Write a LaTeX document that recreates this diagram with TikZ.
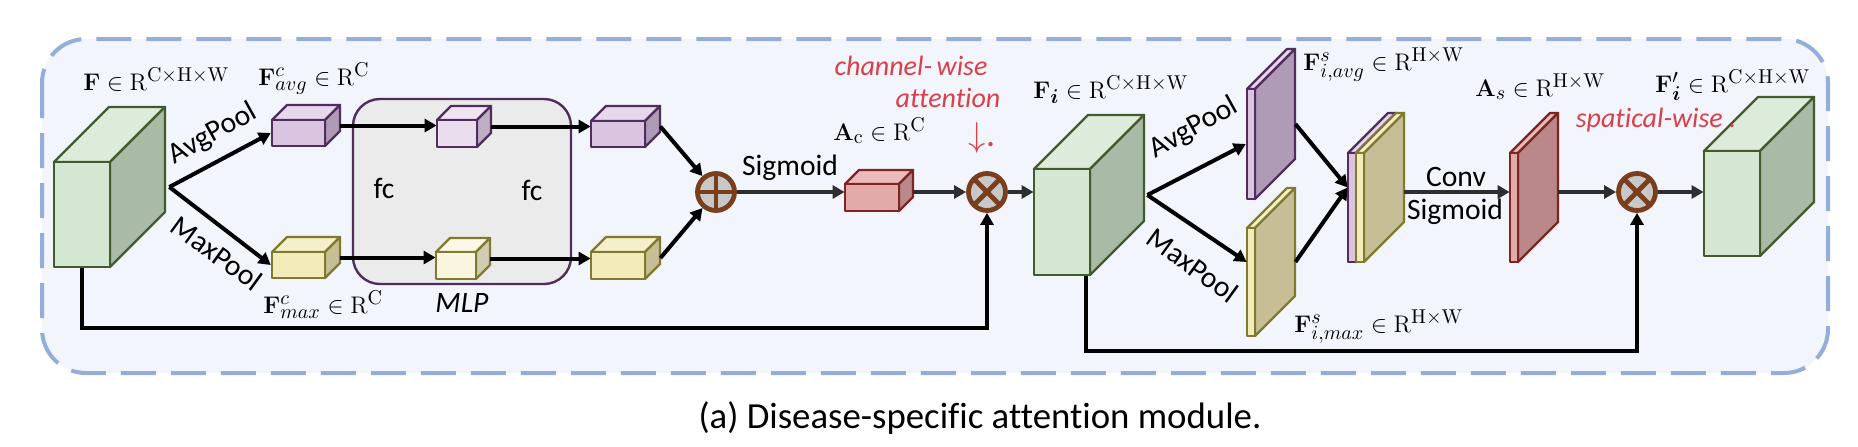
\documentclass[tikz,border=0pt]{standalone}
\usepackage[no-math]{fontspec}
\setmainfont{Carlito}[Ligatures=NoCommon]
\usepackage{bm}
\usepackage{tikz}
\usetikzlibrary{positioning,fit,calc,arrows.meta}
\DeclareMathSizes{12.5}{12.5}{10}{7.5}

\definecolor{grnF}{HTML}{D3E7D3}\definecolor{grnS}{HTML}{A9BBA7}\definecolor{grnT}{HTML}{DCEBDA}\definecolor{grnB}{HTML}{435A2B}
\definecolor{purF}{HTML}{DAC4E0}\definecolor{purS}{HTML}{AF9BB5}\definecolor{purT}{HTML}{E6D7EB}\definecolor{purB}{HTML}{4F2D5F}
\definecolor{pulF}{HTML}{E9DDEE}\definecolor{pulS}{HTML}{BEAFC4}\definecolor{pulT}{HTML}{EFE5F2}\definecolor{pulB}{HTML}{4F2D5F}
\definecolor{yelF}{HTML}{F3EBBA}\definecolor{yelS}{HTML}{C6BF96}\definecolor{yelT}{HTML}{F6EFCB}\definecolor{yelB}{HTML}{807A2E}
\definecolor{yllF}{HTML}{F8F6DE}\definecolor{yllS}{HTML}{D0CDB3}\definecolor{yllT}{HTML}{FAF8E6}\definecolor{yllB}{HTML}{807A2E}
\definecolor{redF}{HTML}{E3AAAA}\definecolor{redS}{HTML}{BA8888}\definecolor{redT}{HTML}{EBBABA}\definecolor{redB}{HTML}{7D2424}
\definecolor{frameblue}{HTML}{94AEDB}\definecolor{framefill}{HTML}{F2F5FB}
\definecolor{mlpgray}{HTML}{EBEBEB}\definecolor{opgray}{HTML}{C8C8C8}\definecolor{opbrown}{HTML}{7A3E1C}
\definecolor{notered}{HTML}{D9404A}\definecolor{darkline}{HTML}{2E2E2E}

% name, x, y, width, height, depth, colour set
\newcommand{\cuboid}[7]{%
  \filldraw[cubeline,draw=#7B,fill=#7T] (#2,#3) -- ++(#6,-#6) -- ++(#4,0) -- ++(-#6,#6) -- cycle;
  \filldraw[cubeline,draw=#7B,fill=#7S] ({#2+#4},#3) -- ++(#6,-#6) -- ++(0,#5) -- ++(-#6,#6) -- cycle;
  \node[cubeline,draw=#7B,fill=#7F,inner sep=0,fit={(#2,#3) ({#2+#4},{#3+#5})}] (#1f) {};
  \node[inner sep=0,fit={(#2,{#3-#6}) ({#2+#4+#6},{#3+#5})}] (#1) {};
}

\begin{document}
\begin{tikzpicture}[x=0.5pt,y=-0.5pt,
  cubeline/.style={line width=1.2pt,line join=round},
  conn/.style={line width=2pt,-{Triangle[length=6pt,width=6.5pt]}},
  dark/.style={draw=darkline},
  frame/.style={draw=frameblue,fill=framefill,line width=2pt,dash pattern=on 17.5pt off 7.5pt,rounded corners=22pt},
  opnode/.style={circle,draw=opbrown,fill=opgray,line width=2.4pt,minimum size=18.5pt,inner sep=0},
  plusnode/.style={opnode,path picture={\draw[opbrown,line width=2.4pt]
    (path picture bounding box.west) -- (path picture bounding box.east)
    (path picture bounding box.north) -- (path picture bounding box.south);}},
  timesnode/.style={opnode,path picture={\draw[opbrown,line width=2.4pt]
    (path picture bounding box.north west) -- (path picture bounding box.south east)
    (path picture bounding box.north east) -- (path picture bounding box.south west);}},
  txt/.style={font=\fontsize{14.8}{17}\selectfont,inner sep=1pt},
  mlab/.style={font=\fontsize{12.5}{15}\selectfont,anchor=base west,inner sep=0},
  note/.style={font=\fontsize{14}{16}\selectfont\itshape,text=notered,inner sep=0}]
\useasboundingbox (0,0) rectangle (1858,446);
\draw[frame] (42,39) rectangle (1828,373);

\node[cubeline,draw=purB,fill=mlpgray,rounded corners=13.5pt,inner sep=0,fit={(353,99) (571,284)}] (mlp) {};

\cuboid{F}{54}{162}{56}{105}{55}{grn}
\cuboid{Favg}{272}{120}{53}{26}{15}{pur}
\cuboid{Fmax}{272}{252}{53}{26}{15}{yel}
\cuboid{mavg}{437}{120}{40}{27}{14}{pul}
\cuboid{mmax}{436}{252}{40}{27}{14}{yll}
\cuboid{ravg}{591}{121}{54}{26}{15}{pur}
\cuboid{rmax}{591}{252}{54}{27}{15}{yel}
\cuboid{Ac}{845}{184}{54}{27}{14}{red}
\cuboid{Fi}{1034}{169}{56}{106}{54}{grn}
\cuboid{savg}{1247}{89}{8}{110}{40}{pur}
\cuboid{smax}{1247}{228}{8}{108}{40}{yel}
\cuboid{cp}{1348}{153}{8}{109}{40}{pur}
\cuboid{cy}{1356}{153}{8}{109}{40}{yel}
\cuboid{As}{1510}{153}{8}{109}{40}{red}
\cuboid{Fo}{1704}{151}{56}{105}{54}{grn}

\node[plusnode] (plus) at (716,192) {};
\node[timesnode] (ot1) at (987,192) {};
\node[timesnode] (ot2) at (1637,192) {};

\coordinate (Fs) at ($(F.east)+(4,0)$);
\coordinate (Fis) at ($(Fi.east)+(3,0)$);
\draw[conn] (Fs) -- (Favgf.west);
\draw[conn] (Fs) -- (Fmaxf.west);
\draw[conn] (Favg) -- (Favg -| mavg.west);
\draw[conn] (Fmax) -- (Fmax -| mmax.west);
\draw[conn] (mavg) -- (mavg -| ravg.west);
\draw[conn] (mmax) -- (mmax -| rmax.west);
\draw[conn] (ravg.east) -- (plus);
\draw[conn] (rmax.east) -- (plus);
\draw[conn,dark] (plus) -- (plus -| Ac.west);
\draw[conn,dark] (Ac.east |- ot1) -- (ot1);
\draw[conn,dark] (ot1) -- (ot1 -| Fi.west);
\draw[conn] (Ff.south) -- ++(0,60) -| (ot1);
\draw[conn] (Fis) -- (savgf.west);
\draw[conn] (Fis) -- (smax.west);
\draw[conn] (savg.east) -- (cp.west);
\draw[conn] (smax.east) -- (cp.west);
\draw[conn,dark] (cy.east |- ot2) -- (As.west |- ot2);
\draw[conn,dark] (As.east |- ot2) -- (ot2);
\draw[conn,dark] (ot2) -- (ot2 -| Fo.west);
\draw[conn] ($(Fif.south east)+(-5,0)$) -- ++(0,75) -| (ot2);

\node[mlab] (lF) at (83,90) {$\mathbf{F}\in\mathrm{R}^{\mathrm{C\times H\times W}}$};
\node[mlab] (lFavg) at (258,85) {$\mathbf{F}^{c}_{avg}\in\mathrm{R}^{\mathrm{C}}$};
\node[mlab] (lFmax) at (263,313) {$\mathbf{F}^{c}_{max}\in\mathrm{R}^{\mathrm{C}}$};
\node[mlab] (lAc) at (833,140) {$\mathbf{A}_{\mathrm{c}}\in\mathrm{R}^{\mathrm{C}}$};
\node[mlab] (lFi) at (1033,98) {$\mathbf{F}_{\bm{i}}\in\mathrm{R}^{\mathrm{C\times H\times W}}$};
\node[mlab] (lFsavg) at (1303,70) {$\mathbf{F}^{s}_{i,avg}\in\mathrm{R}^{\mathrm{H\times W}}$};
\node[mlab] (lFsmax) at (1294,332) {$\mathbf{F}^{s}_{i,max}\in\mathrm{R}^{\mathrm{H\times W}}$};
\node[mlab] (lAs) at (1475,96) {$\mathbf{A}_{s}\in\mathrm{R}^{\mathrm{H\times W}}$};
\node[mlab] (lFo) at (1655,92) {$\mathbf{F}'_{\bm{i}}\in\mathrm{R}^{\mathrm{C\times H\times W}}$};

\node[txt,rotate=29] (lap1) at (213,134) {AvgPool};
\node[txt,rotate=-36] (lmp1) at (217,253) {MaxPool};
\node[txt] (lfc1) at (384,188) {fc};
\node[txt] (lfc2) at (532,190) {fc};
\node[txt,below=3pt of mlp] (lmlp) {\textit{MLP}};
\node[txt] (lsig1) at (790,168) {Sigmoid};
\node[txt,rotate=29] (lap2) at (1194,128) {AvgPool};
\node[txt,rotate=-36] (lmp2) at (1193,265) {MaxPool};
\node[txt] (lconv) at (1456,177) {Conv};
\node[txt] (lsig2) at (1455,212) {Sigmoid};

\node[note] (nch) at (911,66) {channel-\,wise};
\node[note] (nat) at (948,98) {attention};
\node[note,font=\fontsize{18}{20}\selectfont] (nar) at (982,138) {$\downarrow$.};
\node[note] (nsp) at (1656,120) {spatical-wise .};

\node[font=\fontsize{18.4}{22}\selectfont] (cap) at (980,418) {(a) Disease-specific attention module.};
\end{tikzpicture}
\end{document}
